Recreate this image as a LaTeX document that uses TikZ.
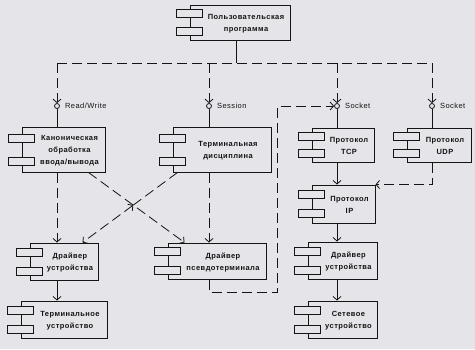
\documentclass[tikz,border=0pt]{standalone}
\usepackage{fontspec}
\setmainfont{Liberation Sans}
\newfontfamily\schemefont[LetterSpace=6]{Liberation Sans}
\usetikzlibrary{arrows.meta,positioning,calc}
\definecolor{Paper}{HTML}{E5E5E9}
\definecolor{Ink}{HTML}{141414}

\begin{document}
\begin{tikzpicture}[x=1pt,y=-1pt,>={Straight Barb[length=3.5pt,width=8pt]},
    comp/.style={draw=Ink,line width=1pt,inner sep=0pt},
    comptab/.style={draw=Ink,fill=Paper,line width=0.9pt,minimum width=26pt,
                    minimum height=8pt,inner sep=0pt},
    comptext/.style={font=\schemefont\fontsize{7.5}{12}\selectfont\bfseries,
                     align=center,text=Ink,inner sep=0pt},
    iface/.style={circle,draw=Ink,line width=0.8pt,minimum size=5pt,inner sep=0pt},
    ifacelabel/.style={font=\schemefont\fontsize{7.5}{8}\selectfont,text=Ink,inner sep=1pt},
    wire/.style={draw=Ink,line width=0.8pt},
    bus/.style={wire,dash pattern=on 10pt off 5pt},
    dep/.style={bus,->}]
  \fill[Paper] (0,0) rectangle (475,349);
  \useasboundingbox (0,0) rectangle (475,349);

  % components
  \foreach \n/\cx/\cy/\w/\h/\t in {
      user/240/22.5/100/35/{Пользовательская\\программа},
      canon/63.5/149.5/83/45/{Каноническая\\обработка\\ввода/вывода},
      term/222/149.5/98/45/{Терминальная\\дисциплина},
      tcp/343/145/62/34/{Протокол\\TCP},
      udp/439/145/64/34/{Протокол\\UDP},
      ip/343.5/204/63/38/{Протокол\\IP},
      drvR/342.5/260.5/69/37/{Драйвер\\устройства},
      net/342.5/319.5/69/37/{Сетевое\\устройство},
      drvL/64/261.5/68/37/{Драйвер\\устройства},
      tdev/64/319.5/86/37/{Терминальное\\устройство},
      pty/217/261/98/36/{Драйвер\\псевдотерминала}}{
    \node[comp,minimum width=\w pt,minimum height=\h pt] (\n) at (\cx,\cy) {};
    \node[comptab] (\n-tab1) at ($(\n.north west)!0.25!(\n.south west)$) {};
    \node[comptab] (\n-tab2) at ($(\n.north west)!0.75!(\n.south west)$) {};
    \node[comptext] (\n-txt) at ($(\n.center)+(6,1)$) {\t};
  }

  % interfaces
  \node[iface] (iRW) at (57,106) {};
  \node[iface] (iSes) at (209,106) {};
  \node[iface] (iTCP) at (337,106) {};
  \node[iface] (iUDP) at (432,106) {};
  \node[ifacelabel,right=4pt of iRW] (lRW) {Read/Write};
  \node[ifacelabel,right=4pt of iSes] (lSes) {Session};
  \node[ifacelabel,right=4pt of iTCP] (lTCP) {Socket};
  \node[ifacelabel,right=4pt of iUDP] (lUDP) {Socket};

  % program bus
  \coordinate (bus) at (236,63);
  \draw[wire] (bus |- user.south) -- (bus);
  \draw[bus] (iRW |- bus) -- (iUDP |- bus);
  \foreach \i in {iRW,iSes,iTCP,iUDP}
    \draw[dep] (\i |- bus) -- (\i);
  \foreach \i/\c in {iRW/canon,iSes/term,iTCP/tcp,iUDP/udp}
    \draw[wire] (\i) -- (\i |- \c.north);

  % terminal side
  \draw[dep] (iRW |- canon.south) -- (iRW |- drvL.north);
  \draw[dep] (iSes |- term.south) -- (iSes |- pty.north);
  \coordinate (cA) at ($(canon.south east)+(-17,0)$);
  \coordinate (pA) at ($(pty.north west)+(17,0)$);
  \coordinate (tA) at ($(term.south west)+(5,0)$);
  \coordinate (dA) at ($(drvL.north east)+(-16,0)$);
  \coordinate (cross) at (intersection of cA--pA and tA--dA);
  \draw[dep] (cA) -- (pA);
  \draw[bus] (tA) -- (cross);
  \draw[bus,<->] (cross) -- (dA);
  \draw[wire,->] (iRW |- drvL.south) -- (iRW |- tdev.north);

  % network side
  \coordinate (loop) at (277,292);
  \draw[dep] (iSes |- pty.south) |- (loop) |- (iTCP);
  \draw[wire,->] (iTCP |- tcp.south) -- (iTCP |- ip.north);
  \draw[dep] (iUDP |- udp.south) |- (ip.north east);
  \draw[wire,->] (iTCP |- ip.south) -- (iTCP |- drvR.north);
  \draw[wire,->] (iTCP |- drvR.south) -- (iTCP |- net.north);
\end{tikzpicture}
\end{document}
